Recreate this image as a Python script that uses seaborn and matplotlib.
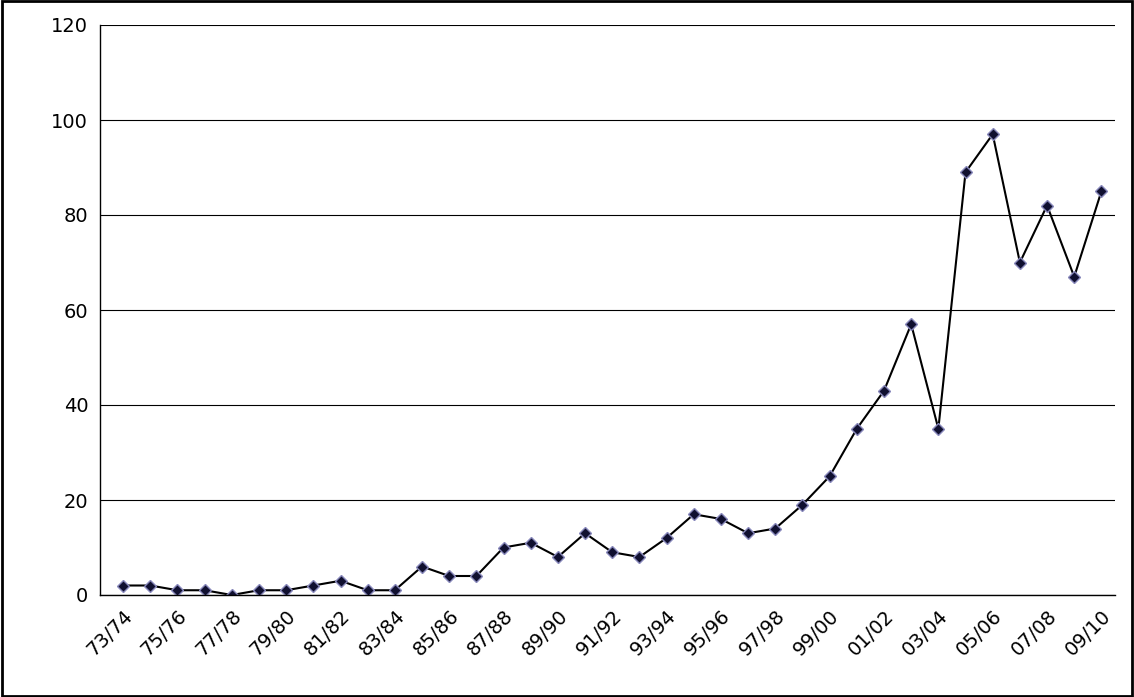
import numpy as np
import pandas as pd
import seaborn as sns
import matplotlib
matplotlib.use('Agg')
import matplotlib.pyplot as plt

seasons = ['%02d/%02d' % (y % 100, (y + 1) % 100) for y in range(1973, 2010)]
values = [2, 2, 1, 1, 0, 1, 1, 2, 3, 1, 1, 6, 4, 4, 10, 11, 8, 13, 9, 8, 12, 17, 16, 13, 14, 19,
          25, 35, 43, 57, 35, 89, 97, 70, 82, 67, 85]

sns.set_style('white')
plt.rcParams['font.family'] = ['DejaVu Sans']

df = pd.DataFrame({'x': np.arange(len(seasons)), 'v': values})

fig = plt.figure(figsize=(11.34, 6.97), dpi=100)
ax = fig.add_axes([100 / 1134, 102 / 697, 1015 / 1134, 570 / 697])
sns.lineplot(data=df, x='x', y='v', ax=ax, color='black', linewidth=1.5,
             marker='D', markersize=6, markerfacecolor='#101030', markeredgecolor='#8888bb', markeredgewidth=1)

ax.set_ylim(0, 120)
ax.set_yticks(range(0, 121, 20))
ax.yaxis.grid(True, color='black', linewidth=0.8)
ax.set_xlim(-0.85, 36.5)
ax.set_xticks(df['x'][::2])
ax.set_xticklabels(seasons[::2], rotation=45, ha='right', rotation_mode='anchor')
ax.tick_params(axis='both', labelsize=14, length=5, direction='out', color='black', labelcolor='black')
ax.tick_params(axis='x', length=0, pad=8)
ax.set_xlabel('')
ax.set_ylabel('')
for s in ['top', 'right']:
    ax.spines[s].set_visible(False)
for s in ['left', 'bottom']:
    ax.spines[s].set_color('black')
    ax.spines[s].set_linewidth(1)

fig.patches.append(plt.Rectangle((0.002, 0.002), 0.996, 0.996, transform=fig.transFigure,
                                 fill=False, edgecolor='black', linewidth=2))
fig.savefig('out.png', dpi=100)
